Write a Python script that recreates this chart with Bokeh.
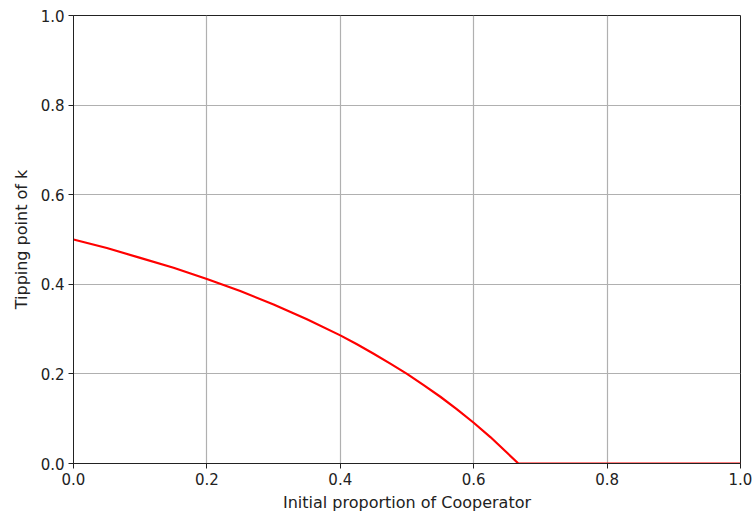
from bokeh.plotting import figure
from bokeh.embed import file_html
from bokeh.resources import INLINE
from bokeh.models import FixedTicker, CustomJSTickFormatter, Range1d

# Values
x_vals = [0.0, 0.05, 0.1, 0.15, 0.2, 0.25, 0.3, 0.35, 0.4, 0.425, 0.45, 0.475, 0.5, 0.525, 0.55, 0.575,
          0.6, 0.625, 0.65, 0.667, 0.7, 0.8, 0.9, 1.0]
k_vals = [0.5, 0.481, 0.459, 0.437, 0.412, 0.385, 0.355, 0.322, 0.286, 0.266, 0.245, 0.223, 0.2, 0.175,
          0.149, 0.121, 0.091, 0.059, 0.024, 0.0, 0.0, 0.0, 0.0, 0.0]
x_ticks = [0.0, 0.2, 0.4, 0.6, 0.8, 1.0]
y_ticks = [0.0, 0.2, 0.4, 0.6, 0.8, 1.0]
x_label = "Initial proportion of Cooperator"
y_label = "Tipping point of k"

p = figure(width=752, height=516, output_backend="svg", toolbar_location=None,
           x_range=Range1d(0, 1), y_range=Range1d(0, 1),
           min_border_left=73, min_border_right=12, min_border_top=15, min_border_bottom=53)

p.line(x_vals, k_vals, line_color="#ff0000", line_width=2.2, line_join="round")

fmt = CustomJSTickFormatter(code="return tick.toFixed(1);")
for ax, ticks, lab in ((p.xaxis[0], x_ticks, x_label), (p.yaxis[0], y_ticks, y_label)):
    ax.ticker = FixedTicker(ticks=ticks)
    ax.formatter = fmt
    ax.axis_label = lab
    ax.axis_label_text_font = "DejaVu Sans"
    ax.axis_label_text_font_size = "16px"
    ax.axis_label_text_font_style = "normal"
    ax.axis_label_text_color = "#222222"
    ax.major_label_text_font = "DejaVu Sans"
    ax.major_label_text_font_size = "15px"
    ax.major_label_text_color = "#222222"
    ax.minor_tick_line_color = None
    ax.major_tick_in = 0
    ax.major_tick_out = 5
    ax.major_tick_line_color = "#222222"
    ax.axis_line_color = "#222222"

p.xaxis[0].axis_label_standoff = 5
p.yaxis[0].axis_label_standoff = 7
p.xaxis[0].major_label_standoff = 4
p.yaxis[0].major_label_standoff = 4

p.grid.grid_line_color = "#b0b0b0"
p.grid.grid_line_width = 1.2
p.outline_line_color = "#222222"
p.outline_line_width = 1
p.background_fill_color = "white"
p.border_fill_color = "white"

open("out.html", "w").write(file_html(p, INLINE))
